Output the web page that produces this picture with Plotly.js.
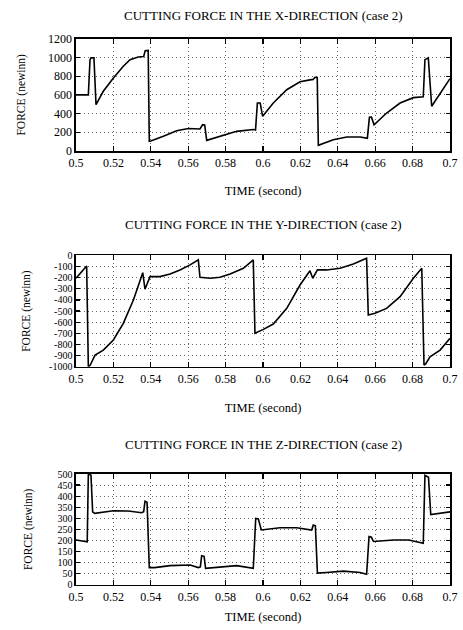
<!DOCTYPE html>
<html>
<head>
<meta charset="utf-8">
<script src="https://cdn.plot.ly/plotly-3.0.1.min.js"></script>
<style>
html,body{margin:0;padding:0;background:#fff;}
#chart{width:463px;height:630px;}
</style>
</head>
<body>
<div id="chart"></div>
<script>
// ---- Data ----
const xTickVals = [0.5, 0.52, 0.54, 0.56, 0.58, 0.6, 0.62, 0.64, 0.66, 0.68, 0.7];
const xTickText = ["0.5", "0.52", "0.54", "0.56", "0.58", "0.6", "0.62", "0.64", "0.66", "0.68", "0.7"];

const titles = [
  "CUTTING FORCE IN THE X-DIRECTION (case 2)",
  "CUTTING FORCE IN THE Y-DIRECTION (case 2)",
  "CUTTING FORCE IN THE Z-DIRECTION (case 2)"
];
const xTitle = "TIME (second)";
const yTitle = "FORCE (newinn)";

// X-direction force
const tX = [0.5, 0.5066, 0.5075, 0.5080, 0.5096, 0.5107, 0.5146, 0.5200, 0.5253, 0.5289,
  0.5333, 0.5362, 0.5370, 0.5386, 0.5392, 0.5400, 0.5467, 0.5538, 0.5601, 0.5663,
  0.5677, 0.5688, 0.5699, 0.5770, 0.5859, 0.5948, 0.5960, 0.5970, 0.5985, 0.5998,
  0.6055, 0.6127, 0.6198, 0.6251, 0.6268, 0.6278, 0.6290, 0.6296, 0.6376, 0.6448,
  0.6520, 0.6558, 0.6569, 0.6580, 0.6594, 0.6661, 0.6733, 0.6804, 0.6857, 0.6866,
  0.6884, 0.6902, 0.7000];
const fX = [600, 600, 976, 995, 995, 495, 638, 780, 905, 976,
  1005, 1010, 1072, 1075, 104, 107, 157, 217, 240, 235,
  281, 278, 114, 157, 210, 230, 225, 513, 513, 371,
  513, 655, 740, 760, 765, 788, 785, 61, 121, 150,
  150, 135, 360, 362, 281, 406, 513, 570, 580, 976,
  995, 478, 773];

// Y-direction force
const tY = [0.5, 0.5057, 0.5066, 0.5075, 0.5102, 0.5146, 0.5200, 0.5253, 0.5307, 0.5351,
  0.5357, 0.5369, 0.5396, 0.5449, 0.5503, 0.5556, 0.5610, 0.5654, 0.5663, 0.5717,
  0.5770, 0.5824, 0.5895, 0.5948, 0.5957, 0.6002, 0.6055, 0.6127, 0.6198, 0.6251,
  0.6266, 0.6291, 0.6340, 0.6412, 0.6483, 0.6554, 0.6563, 0.6599, 0.6661, 0.6733,
  0.6804, 0.6849, 0.6861, 0.6870, 0.6893, 0.6947, 0.7000];
const fY = [-205, -95, -1000, -990, -896, -851, -760, -610, -400, -190,
  -155, -304, -190, -190, -167, -130, -85, -40, -196, -205,
  -196, -167, -115, -40, -700, -665, -617, -476, -266, -137,
  -205, -130, -130, -115, -77, -25, -536, -520, -476, -371,
  -205, -115, -986, -975, -911, -851, -745];

// Z-direction force
const tZ = [0.5, 0.5048, 0.5060, 0.5066, 0.5080, 0.5089, 0.5100, 0.5200, 0.5280, 0.5351,
  0.5362, 0.5369, 0.5380, 0.5392, 0.5420, 0.5503, 0.5610, 0.5654, 0.5665, 0.5672,
  0.5685, 0.5693, 0.5770, 0.5859, 0.5948, 0.5961, 0.5975, 0.5991, 0.6091, 0.6180,
  0.6260, 0.6269, 0.6280, 0.6291, 0.6340, 0.6430, 0.6519, 0.6554, 0.6567, 0.6580,
  0.6591, 0.6698, 0.6780, 0.6857, 0.6866, 0.6885, 0.6897, 0.6947, 0.7000];
const fZ = [202, 194, 194, 500, 495, 329, 322, 334, 333, 325,
  330, 377, 372, 77, 77, 86, 89, 77, 80, 131,
  128, 74, 80, 86, 74, 299, 297, 247, 257, 257,
  247, 269, 266, 52, 55, 61, 55, 47, 217, 214,
  195, 202, 202, 187, 494, 485, 317, 324, 329];

const yTickValsX = [0, 200, 400, 600, 800, 1000, 1200];
const yTickTextX = ["0", "200", "400", "600", "800", "1000", "1200"];
const yTickValsY = [0, -100, -200, -300, -400, -500, -600, -700, -800, -900, -1000];
const yTickTextY = ["0", "-100", "-200", "-300", "-400", "-500", "-600", "-700", "-800", "-900", "-1000"];
const yTickValsZ = [0, 50, 100, 150, 200, 250, 300, 350, 400, 450, 500];
const yTickTextZ = ["0", "50", "100", "150", "200", "250", "300", "350", "400", "450", "500"];

// ---- Build chart ----
const FONT = "Liberation Serif, Times New Roman, serif";
const lineStyle = {color: "#000", width: 1.6};

const traces = [
  {x: tX, y: fX, xaxis: "x", yaxis: "y", mode: "lines", line: lineStyle, name: "Fx"},
  {x: tY, y: fY, xaxis: "x2", yaxis: "y2", mode: "lines", line: lineStyle, name: "Fy"},
  {x: tZ, y: fZ, xaxis: "x3", yaxis: "y3", mode: "lines", line: lineStyle, name: "Fz"}
];

function xAxis(anchor, standoff) {
  return {
    anchor: anchor, domain: [0, 1], range: [0.5, 0.7],
    tickmode: "array", tickvals: xTickVals, ticktext: xTickText,
    ticks: "inside", ticklen: 5, tickwidth: 1.2, tickcolor: "#000",
    showline: true, linecolor: "#000", linewidth: 1.6, mirror: "ticks",
    showgrid: true, gridcolor: "#666", griddash: "1px,3px", gridwidth: 1,
    zeroline: false,
    tickfont: {family: FONT, size: 12, color: "#000"},
    title: {text: xTitle, font: {family: FONT, size: 12.5, color: "#000"}, standoff: standoff},
    automargin: false
  };
}
function yAxis(anchor, domain, range, vals, text, fsize, standoff) {
  return {
    anchor: anchor, domain: domain, range: range,
    tickmode: "array", tickvals: vals, ticktext: text,
    ticks: "inside", ticklen: 4, tickwidth: 1.2, tickcolor: "#000",
    showline: true, linecolor: "#000", linewidth: 1.6, mirror: "ticks",
    showgrid: true, gridcolor: "#666", griddash: "1px,3px", gridwidth: 1,
    zeroline: false,
    tickfont: {family: FONT, size: fsize, color: "#000"},
    title: {text: yTitle, font: {family: FONT, size: 11.5, color: "#000"}, standoff: standoff},
    automargin: false
  };
}

const layout = {
  width: 463, height: 630,
  margin: {l: 76, r: 13, t: 0, b: 0},
  paper_bgcolor: "#fff", plot_bgcolor: "#fff",
  showlegend: false,
  font: {family: FONT, color: "#000"},
  xaxis: xAxis("y", 17),
  xaxis2: xAxis("y2", 18),
  xaxis3: xAxis("y3", 9),
  yaxis: yAxis("x", [0.7603, 0.9386], [0, 1200], yTickValsX, yTickTextX, 12, 20),
  yaxis2: yAxis("x2", [0.4180, 0.5945], [-1000, 0], yTickValsY, yTickTextY, 10, 16),
  yaxis3: yAxis("x3", [0.0720, 0.2476], [0, 500], yTickValsZ, yTickTextZ, 10, 22),
  annotations: [
    {text: titles[0], xref: "paper", yref: "paper", x: 0.5, y: 0.976, showarrow: false,
     xanchor: "center", yanchor: "middle", font: {family: FONT, size: 13, color: "#000"}},
    {text: titles[1], xref: "paper", yref: "paper", x: 0.5, y: 0.643, showarrow: false,
     xanchor: "center", yanchor: "middle", font: {family: FONT, size: 13, color: "#000"}},
    {text: titles[2], xref: "paper", yref: "paper", x: 0.5, y: 0.294, showarrow: false,
     xanchor: "center", yanchor: "middle", font: {family: FONT, size: 13, color: "#000"}}
  ]
};

Plotly.newPlot("chart", traces, layout, {staticPlot: true, displayModeBar: false});
</script>
</body>
</html>
